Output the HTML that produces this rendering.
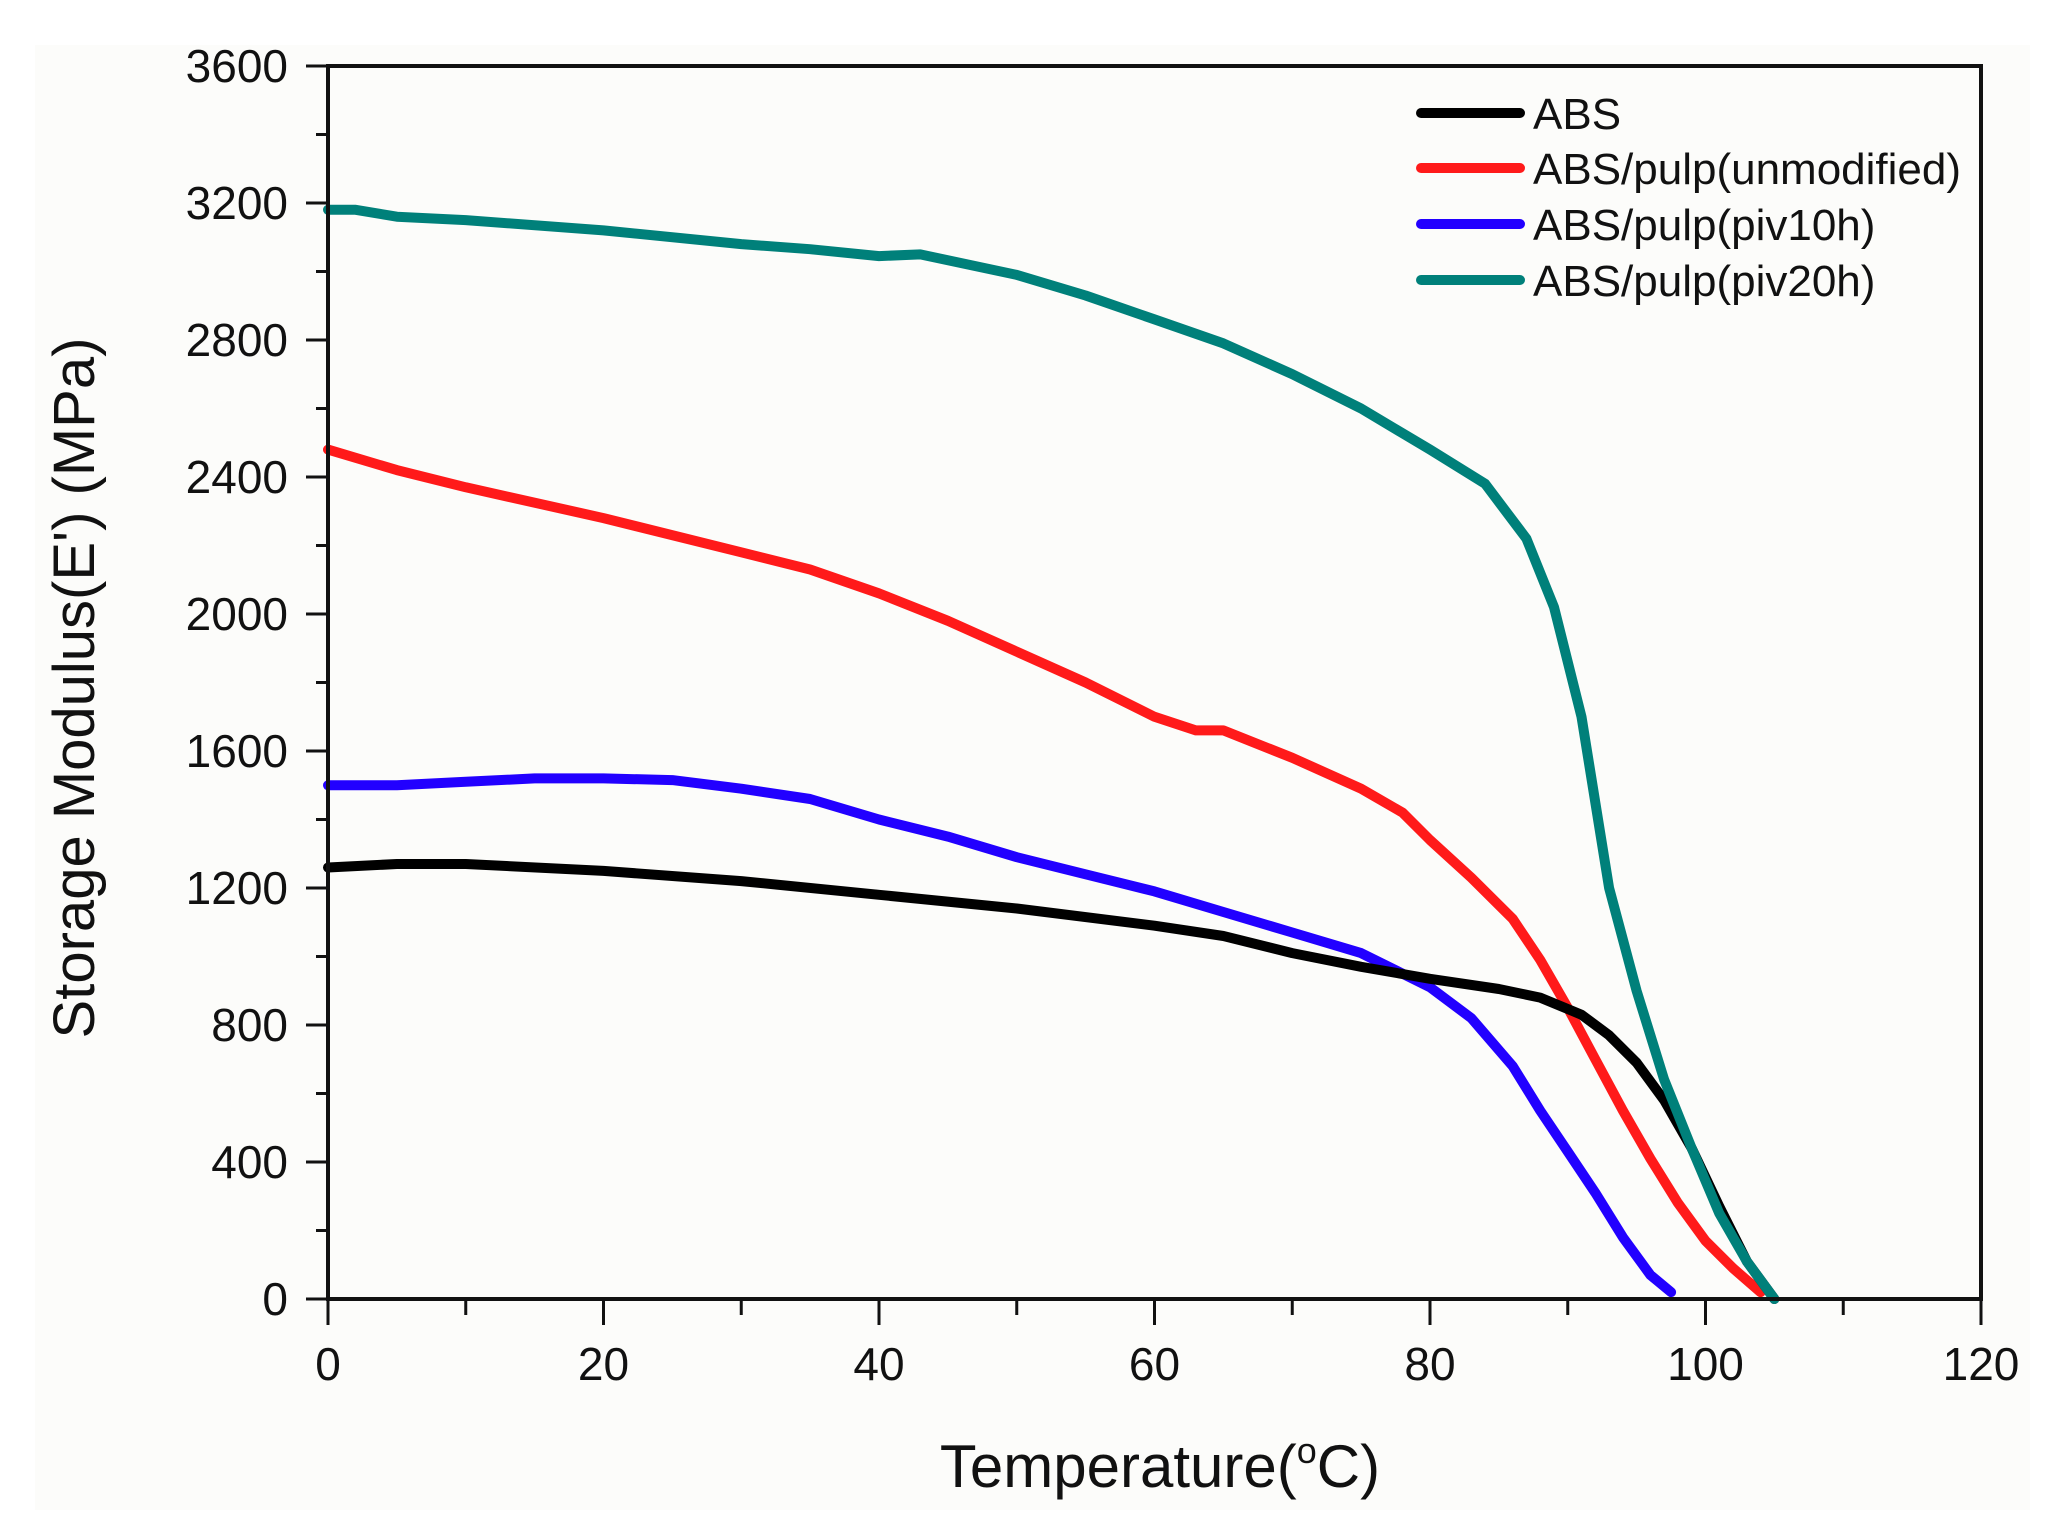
<!DOCTYPE html>
<html><head><meta charset="utf-8"><style>
html,body{margin:0;padding:0;background:#fff;}
svg{display:block;font-family:"Liberation Sans",Arial,sans-serif;}
</style></head><body>
<svg width="2057" height="1522" viewBox="0 0 2057 1522" xmlns="http://www.w3.org/2000/svg">
<rect x="0" y="0" width="2057" height="1522" fill="#fff"/>
<rect x="35" y="45" width="1995" height="1465" fill="#fcfcfa"/>
<g id="ticks" stroke="#111" stroke-width="3">
</g>
<g id="series" fill="none" stroke-width="10" stroke-linejoin="round" stroke-linecap="round"></g>
<rect x="328" y="66" width="1653" height="1233" fill="none" stroke="#111" stroke-width="4"/>
<g id="labels" font-size="46" fill="#111"></g>
<text x="1160" y="1487" font-size="60" text-anchor="middle" fill="#111">Temperature(<tspan font-size="36" dy="-24">o</tspan><tspan dy="24">C)</tspan></text>
<text transform="translate(94,688) rotate(-90)" font-size="58" text-anchor="middle" fill="#111">Storage Modulus(E') (MPa)</text>
<g stroke-width="10" stroke-linecap="round">
<line x1="1421" y1="113" x2="1520" y2="113" stroke="#000"/>
<line x1="1421" y1="168" x2="1520" y2="168" stroke="#ff1a1a"/>
<line x1="1421" y1="224" x2="1520" y2="224" stroke="#2200ff"/>
<line x1="1421" y1="280" x2="1520" y2="280" stroke="#00807a"/>
</g>
<g font-size="44" fill="#111">
<text x="1533" y="129">ABS</text>
<text x="1533" y="184">ABS/pulp(unmodified)</text>
<text x="1533" y="240">ABS/pulp(piv10h)</text>
<text x="1533" y="296">ABS/pulp(piv20h)</text>
</g>
<script>
const X=t=>328+t*13.775, Y=v=>1299-v*0.3425;
const ns="http://www.w3.org/2000/svg";
const tk=document.getElementById('ticks'), lb=document.getElementById('labels');
function ln(x1,y1,x2,y2){const l=document.createElementNS(ns,'line');l.setAttribute('x1',x1);l.setAttribute('y1',y1);l.setAttribute('x2',x2);l.setAttribute('y2',y2);tk.appendChild(l);}
function tx(x,y,s,a){const t=document.createElementNS(ns,'text');t.setAttribute('x',x);t.setAttribute('y',y);t.setAttribute('text-anchor',a);t.textContent=s;lb.appendChild(t);}
for(let v=0;v<=3600;v+=200){const y=Y(v);if(v%400==0){ln(306,y,328,y);tx(288,y+16,v,'end');}else ln(316,y,328,y);}
for(let t=0;t<=120;t+=10){const x=X(t);if(t%20==0){ln(x,1299,x,1325);tx(x,1380,t,'middle');}else ln(x,1299,x,1315);}
const data={
"#00807a":[[0,3180],[2,3180],[5,3160],[10,3150],[20,3120],[30,3080],[35,3065],[40,3045],[43,3050],[50,2990],[55,2930],[60,2860],[65,2790],[70,2700],[75,2600],[80,2480],[84,2380],[87,2220],[89,2020],[91,1700],[93,1200],[95,900],[97,640],[99,440],[101,250],[103,110],[105,0]],
"#ff1a1a":[[0,2480],[5,2420],[10,2370],[20,2280],[30,2180],[35,2130],[40,2060],[45,1980],[50,1890],[55,1800],[60,1700],[63,1660],[65,1660],[70,1580],[75,1490],[78,1420],[80,1340],[83,1230],[86,1110],[88,990],[90,850],[92,700],[94,550],[96,410],[98,280],[100,170],[102,90],[104,20]],
"#2200ff":[[0,1500],[5,1500],[10,1510],[15,1520],[20,1520],[25,1515],[30,1490],[35,1460],[40,1400],[45,1350],[50,1290],[55,1240],[60,1190],[65,1130],[70,1070],[75,1010],[78,950],[80,910],[83,820],[86,680],[88,550],[90,430],[92,310],[94,180],[96,70],[97.5,20]],
"#000":[[0,1260],[5,1270],[10,1270],[20,1250],[30,1220],[40,1180],[50,1140],[60,1090],[65,1060],[70,1010],[75,970],[80,935],[85,905],[88,880],[91,830],[93,770],[95,690],[97,580],[99,440],[101,270],[103,110],[105,0]]};
const sg=document.getElementById('series');
for(const c of ["#2200ff","#ff1a1a","#000","#00807a"]){const p=document.createElementNS(ns,'polyline');p.setAttribute('points',data[c].map(d=>X(d[0]).toFixed(1)+','+Y(d[1]).toFixed(1)).join(' '));p.setAttribute('stroke',c);sg.appendChild(p);}
</script>
</svg>
</body></html>
